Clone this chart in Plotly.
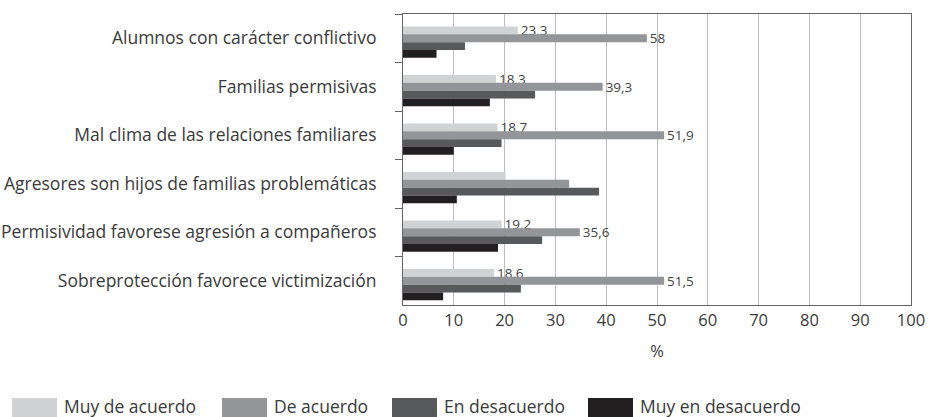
import plotly.graph_objects as go

categories = [
    "Alumnos con carácter conflictivo",
    "Familias permisivas",
    "Mal clima de las relaciones familiares",
    "Agresores son hijos de familias problemáticas",
    "Permisividad favorese agresión a compañeros",
    "Sobreprotección favorece victimización",
]
series_names = ["Muy de acuerdo", "De acuerdo", "En desacuerdo", "Muy en desacuerdo"]
muy_de_acuerdo = [22.6, 18.3, 18.6, 20.2, 19.4, 17.9]
de_acuerdo = [48.0, 39.3, 51.4, 32.7, 34.8, 51.4]
en_desacuerdo = [12.2, 26.0, 19.4, 38.6, 27.4, 23.2]
muy_en_desacuerdo = [6.6, 17.1, 10.0, 10.6, 18.7, 7.9]
labels_muy_de_acuerdo = ["23,3", "18,3", "18,7", "", "19,2", "18,6"]
labels_de_acuerdo = ["58", "39,3", "51,9", "", "35,6", "51,5"]
x_ticks = [0, 10, 20, 30, 40, 50, 60, 70, 80, 90, 100]

colors = ["#d1d2d4", "#939598", "#58595b", "#231f20"]
values = [muy_de_acuerdo, de_acuerdo, en_desacuerdo, muy_en_desacuerdo]
texts = [labels_muy_de_acuerdo, labels_de_acuerdo, None, None]

FONT = "Open Sans"
TXT = "#3a3a3a"
W, H = 928, 417
L, R, T, B = 403, 17, 14, 112
plot_w = W - L - R
plot_h = H - T - B

fig = go.Figure()
bw = 0.16
shift = 0.08
for k, (name, vals, col, tx) in enumerate(zip(series_names, values, colors, texts)):
    fig.add_trace(go.Bar(
        y=categories, x=vals, orientation="h", name=name,
        marker=dict(color=col, line=dict(width=0)),
        width=bw, offset=-2 * bw + shift + k * bw,
        text=tx, textposition="outside" if tx else "none",
        textfont=dict(family=FONT, size=13.5, color="#444444"),
        constraintext="none", cliponaxis=False,
        showlegend=False, hoverinfo="x+name",
    ))

def px2x(px):
    return (px - L) / plot_w

def py2y(py):
    return (H - B - py) / plot_h

# custom legend with wide swatches
sw_x = [12, 222, 392, 588]
sw_w = 45
for k, name in enumerate(series_names):
    fig.add_shape(type="rect", xref="paper", yref="paper",
                  x0=px2x(sw_x[k]), x1=px2x(sw_x[k] + sw_w),
                  y0=py2y(398), y1=py2y(417),
                  fillcolor=colors[k], line=dict(width=0), layer="above")
    fig.add_annotation(xref="paper", yref="paper",
                       x=px2x(sw_x[k] + sw_w + 5), y=py2y(405.5),
                       text=name, showarrow=False, xanchor="left", yanchor="middle",
                       font=dict(family=FONT, size=17.5, color=TXT))

fig.update_layout(
    width=W, height=H,
    margin=dict(l=L, r=R, t=T, b=B, autoexpand=False),
    paper_bgcolor="white", plot_bgcolor="white",
    barmode="overlay",
    showlegend=False,
    font=dict(family=FONT, color=TXT),
)
fig.update_xaxes(
    range=[0, 100], tickvals=x_ticks, ticktext=[str(v) for v in x_ticks],
    showgrid=True, gridcolor="#bdbdbd", gridwidth=1,
    showline=True, linecolor="#666666", linewidth=1, mirror=True,
    ticks="", tickfont=dict(family=FONT, size=16.5, color=TXT),
    title=dict(text="%", font=dict(family=FONT, size=16.5, color=TXT), standoff=15),
    zeroline=False, automargin=False,
)
fig.update_yaxes(
    type="category", range=[5.5, -0.5],
    showgrid=False, showline=True, linecolor="#666666", linewidth=1, mirror=True,
    ticks="outside", ticklen=7, tickcolor="#666666", tickson="boundaries",
    ticklabelstandoff=22, automargin=False,
    tickfont=dict(family=FONT, size=17.5, color=TXT),
)

fig.write_html("out.html", config={"displayModeBar": False, "responsive": False},
               post_script="document.body.style.margin='0px';document.body.style.overflow='hidden';")
